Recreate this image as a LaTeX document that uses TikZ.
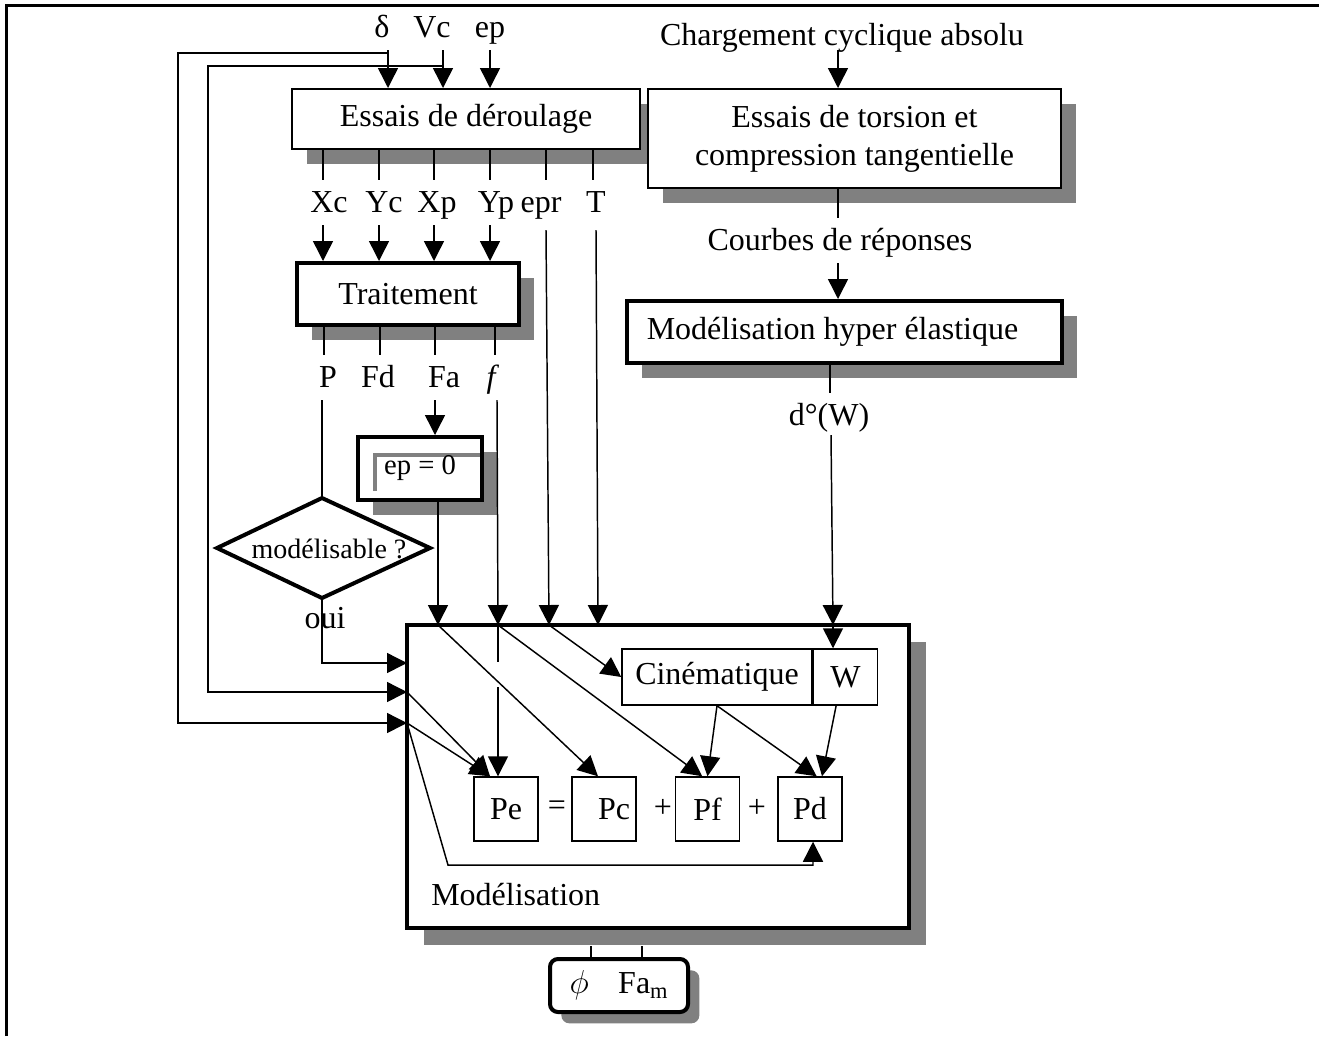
\documentclass[tikz,border=0pt]{standalone}
\usepackage{fontspec}
\setmainfont{Liberation Serif}
\usetikzlibrary{arrows.meta,shadows}
\definecolor{shd}{RGB}{128,128,128}
\tikzset{
 ln/.style={line width=1.1pt},
 arr/.style={ln,-{Triangle[length=15pt,width=15pt]}},
 thinbox/.style={draw, line width=1.5pt, fill=white, inner sep=0pt},
 ibox/.style={draw, line width=1.1pt, fill=white, inner sep=0pt},
 thickbox/.style={draw, line width=3pt, fill=white, inner sep=0pt},
 shad/.style={drop shadow={shadow xshift=#1, shadow yshift=-#1, fill=shd, opacity=1}},
 lbl/.style={anchor=base, inner sep=0pt},
}
\begin{document}
\begin{tikzpicture}[x=0.75pt,y=-0.75pt, every node/.style={font=\fontsize{24}{28.5}\selectfont}]
\useasboundingbox (0,0) rectangle (1319,1036);
% frame
\draw[line width=2.25pt] (6,1036) -- (6,5) -- (1319,5);

% boxes
\node[thinbox, shad=11.5pt, minimum width=261pt, minimum height=45pt] (E1) at (466,119) {Essais de déroulage};
\node[thinbox, shad=11pt, minimum width=309.75pt, minimum height=74.25pt, align=center] (E2) at (854.5,138.5) {Essais de torsion et\\compression tangentielle};
\node[thickbox, shad=11.5pt, minimum width=166.5pt, minimum height=46.5pt] (T) at (408,294) {Traitement};
\node[thickbox, shad=11pt, minimum width=326.25pt, minimum height=46.5pt] (MH) at (844.5,332) {Modélisation hyper élastique\hspace*{18pt}};
\node[thickbox, shad=11.5pt, minimum width=93pt, minimum height=47.25pt, font=\fontsize{21.5}{25}\selectfont] (EP) at (420,468.5) {\phantom{ep = 0}};
\draw[shd, line width=2.5pt] (375,491) -- (375,455) -- (480,455);
\node[inner sep=0pt, font=\fontsize{21.5}{25}\selectfont] (EPt) at (EP.center) {ep = 0};

% diamond
\coordinate (dT) at (322,498);
\coordinate (dR) at (430,548);
\coordinate (dB) at (322,598);
\coordinate (dL) at (217,548);
\draw[line width=3pt, fill=white] (dT) -- (dR) -- (dB) -- (dL) -- cycle;
\node[lbl, font=\fontsize{21}{25}\selectfont] (dq) at (329,558) {modélisable ?};

% outputs of modelisation (under shadow)
\coordinate (o1) at (591,946);
\coordinate (o2) at (642,946);

% Modelisation box
\node[draw, line width=3.5pt, fill=white, shad=12.5pt, minimum width=376.5pt, minimum height=227.25pt, inner sep=0pt] (M) at (658,776.5) {};
\node[ibox, minimum width=142.5pt, minimum height=42pt] (Cin) at (717,677) {Cinématique};
\node[ibox, anchor=west, minimum width=48pt, minimum height=42pt] (W) at (Cin.east) {W};
\node[ibox, minimum size=48pt] (Pe) at (506,809) {Pe};
\node[ibox, minimum size=48pt] (Pc) at (604,809) {\hspace*{15pt}Pc};
\node[ibox, minimum size=48pt] (Pf) at (707.5,809) {Pf};
\node[ibox, minimum size=48pt] (Pd) at (810,809) {Pd};
\node[inner sep=0pt] (eq) at (557,808) {=};
\node[inner sep=0pt] (pl1) at (663,808) {+};
\node[inner sep=0pt] (pl2) at (757,808) {+};
\node[lbl, anchor=base west] (mlab) at (431,905) {Modélisation};

% final box
\node[thickbox, rounded corners=6pt, shad=8.5pt, minimum width=103.5pt, minimum height=39.75pt] (fin) at (619,985.5) {$\phi$\hspace{22pt}Fa\textsubscript{m}};
\draw[ln] (o1) -- (o1 |- fin.north);
\draw[ln] (o2) -- (o2 |- fin.north);

% labels
\node[lbl] (ld) at (382,37) {δ};
\node[lbl] (lv) at (432,37) {Vc};
\node[lbl] (le) at (490,37) {ep};
\node[lbl] (lxc) at (329,212) {Xc};
\node[lbl] (lyc) at (384,212) {Yc};
\node[lbl] (lxp) at (437,212) {Xp};
\node[lbl] (lyp) at (496,212) {Yp};
\node[lbl] (lepr) at (541,212) {epr};
\node[lbl] (lt) at (596,212) {T};
\node[lbl] (lp) at (328,387) {P};
\node[lbl] (lfd) at (378,387) {Fd};
\node[lbl] (lfa) at (444,387) {Fa};
\node[lbl] (lf) at (493,387) {\textit{f}};
\node[lbl] (lch) at (842,45) {Chargement cyclique absolu};
\node[lbl] (lcb) at (840,250) {Courbes de réponses};
\node[lbl] (ldw) at (829,425) {d°(W)};
\node[lbl] (loui) at (325,628) {oui};

% inputs to E1
\coordinate (a1) at (388,50);
\coordinate (a2) at (443,50);
\coordinate (a3) at (490,50);
\draw[arr] (a1) -- (a1 |- E1.north);
\draw[arr] (a2) -- (a2 |- E1.north);
\draw[arr] (a3) -- (a3 |- E1.north);

% M entry points
\coordinate (mi1) at (438,625);
\coordinate (mi2) at (498,625);
\coordinate (mi3) at (549,625);
\coordinate (mi4) at (598,625);
\coordinate (mi5) at (833,625);
\coordinate (ml1) at (407,663);
\coordinate (ml2) at (407,692);
\coordinate (ml3) at (407,723);

% feedback loops
\coordinate (l1) at (178,53);
\coordinate (l2) at (208,66);
\draw[arr] (a1 |- l1) -- (l1) |- (ml3);
\draw[arr] (a2 |- l2) -- (l2) |- (ml2);

% E1 outputs
\foreach \x/\n in {323/1,379/2,434/3,490/4,546/5,593/6}{
  \coordinate (s\n) at (\x,180);
  \draw[ln] (s\n |- E1.south) -- (s\n);
}
\foreach \x/\n in {323/1,379/2,434/3,490/4}{
  \coordinate (t\n) at (\x,225);
  \draw[arr] (t\n) -- (t\n |- T.north);
}
\coordinate (epro) at (546,230);
\coordinate (tto) at (596,230);
\draw[arr] (epro) -- (mi3);
\draw[arr] (tto) -- (mi4);

% Traitement outputs
\foreach \x/\n in {324/1,380/2,435/3,495/4}{
  \coordinate (u\n) at (\x,355);
  \draw[ln] (u\n |- T.south) -- (u\n);
}
\coordinate (po) at (322,400);
\coordinate (fao) at (435,400);
\coordinate (fo) at (497,400);
\draw[ln] (po) -- (dT);
\draw[arr] (fao) -- (fao |- EP.north);
\draw[arr] (fo) -- (mi2);
\draw[arr] (EP.south -| mi1) -- (mi1);
\draw[arr] (dB) -- (dB |- ml1) -- (ml1);

% right column
\coordinate (c1) at (838,50);
\coordinate (c2) at (838,218);
\coordinate (c3) at (838,263);
\coordinate (c4) at (830,393);
\coordinate (c5) at (831,435);
\draw[arr] (c1) -- (c1 |- E2.north);
\draw[ln] (c2 |- E2.south) -- (c2);
\draw[arr] (c3) -- (c3 |- MH.north);
\draw[ln] (c4 |- MH.south) -- (c4);
\draw[arr] (c5) -- (mi5);
\draw[arr] (mi5) -- (mi5 |- W.north);

% inside modelisation
\draw[arr] (mi1) -- ([xshift=-4.5pt]Pc.north);
\coordinate (g1) at (498,662);
\coordinate (g2) at (498,687);
\draw[ln] (mi2) -- (g1);
\draw[arr] (g2) -- (g2 |- Pe.north);
\draw[arr] (mi2) -- ([xshift=-4pt]Pf.north);
\draw[arr] (mi3) -- (Cin.west);
\draw[arr] (Cin.south) -- (Pf.north);
\draw[arr] (Cin.south) -- ([xshift=5pt]Pd.north);
\draw[arr] ([xshift=-7pt]W.south) -- ([xshift=9pt]Pd.north);
\draw[arr] (ml2) -- ([xshift=-12pt]Pe.north);
\draw[arr] (ml3) -- ([xshift=-12pt]Pe.north);
\coordinate (b1) at (448,865);
\draw[arr] (ml3) -- (b1) -| ([xshift=2.25pt]Pd.south);
\end{tikzpicture}
\end{document}
